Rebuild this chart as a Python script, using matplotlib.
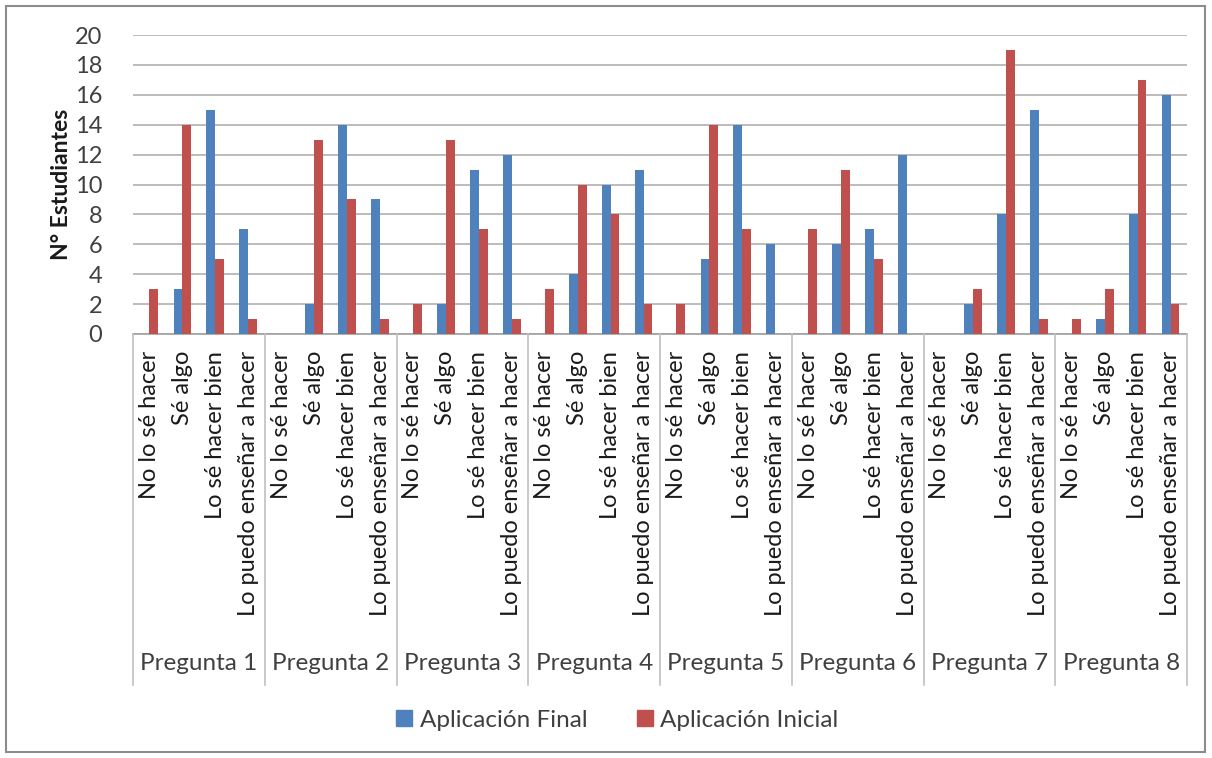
import matplotlib
matplotlib.use("Agg")
import matplotlib.pyplot as plt
from matplotlib.lines import Line2D
from matplotlib.patches import Rectangle
import numpy as np

plt.rcParams['font.family'] = ['Lato', 'DejaVu Sans']

groups = ["Pregunta 1", "Pregunta 2", "Pregunta 3", "Pregunta 4",
          "Pregunta 5", "Pregunta 6", "Pregunta 7", "Pregunta 8"]
levels = ["No lo sé hacer", "Sé algo", "Lo sé hacer bien", "Lo puedo enseñar a hacer"]

final_vals = [0, 3, 15, 7,
              0, 2, 14, 9,
              0, 2, 11, 12,
              0, 4, 10, 11,
              0, 5, 14, 6,
              0, 6, 7, 12,
              0, 2, 8, 15,
              0, 1, 8, 16]
inicial_vals = [3, 14, 5, 1,
                0, 13, 9, 1,
                2, 13, 7, 1,
                3, 10, 8, 2,
                2, 14, 7, 0,
                7, 11, 5, 0,
                0, 3, 19, 1,
                1, 3, 17, 2]

series_names = ["Aplicación Final", "Aplicación Inicial"]
colors = ["#4F81BD", "#C0504D"]

W, H = 1212, 758
fig = plt.figure(figsize=(W / 100, H / 100), dpi=100)
L, R, T, B = 133, 1187, 35, 334
ax = fig.add_axes([L / W, 1 - B / H, (R - L) / W, (B - T) / H])

n = len(final_vals)
x = np.arange(n)
bw = 0.27
ax.bar(x - bw / 2, final_vals, bw, color=colors[0], label=series_names[0], zorder=3)
ax.bar(x + bw / 2, inicial_vals, bw, color=colors[1], label=series_names[1], zorder=3)

ax.set_xlim(-0.5, n - 0.5)
ax.set_ylim(0, 20)
ax.set_yticks(range(0, 21, 2))
ax.yaxis.grid(True, color="#b0b0b0", linewidth=1.2, zorder=0)
ax.set_axisbelow(True)
for s in ["top", "right", "left"]:
    ax.spines[s].set_visible(False)
ax.spines["bottom"].set_color("#a0a0a0")
ax.spines["bottom"].set_linewidth(1.2)
ax.tick_params(axis="y", length=0, labelsize=17, colors="#404040", pad=22)
ax.tick_params(axis="x", length=0, pad=12)

cat_labels = levels * len(groups)
ax.set_xticks(x)
ax.set_xticklabels(cat_labels, rotation=90, fontsize=17, color="#1a1a1a", va="top", ha="center")

ax.set_ylabel("N° Estudiantes", fontsize=16.5, fontweight="bold", color="#1a1a1a", labelpad=2)

# group separators and group labels
sep_bottom = 685
for g in range(len(groups) + 1):
    xpos = g * 4 - 0.5
    xf = L / W + (xpos + 0.5) / n * (R - L) / W
    fig.add_artist(Line2D([xf, xf], [1 - B / H, 1 - sep_bottom / H],
                          color="#c0c0c0", linewidth=1.2, transform=fig.transFigure))
for g, name in enumerate(groups):
    xc = g * 4 + 1.5
    xf = L / W + (xc + 0.5) / n * (R - L) / W
    fig.text(xf, 1 - 663 / H, name, ha="center", va="center", fontsize=17.5, color="#404040")

handles = [Line2D([], [], marker="s", linestyle="none", markersize=11, color=c) for c in colors]
leg = fig.legend(handles, series_names, loc="center", bbox_to_anchor=(617 / W, 1 - 720 / H),
                 ncol=2, frameon=False, fontsize=17.5, handlelength=0.7, handletextpad=0.3,
                 columnspacing=2.0, labelcolor="#404040")

fig.add_artist(Rectangle((6 / W, 1 - 752 / H), (1205 - 6) / W, (752 - 6) / H,
                         transform=fig.transFigure, fill=False, edgecolor="#8c8c8c", linewidth=1.5))

fig.savefig("out.png", dpi=100)
